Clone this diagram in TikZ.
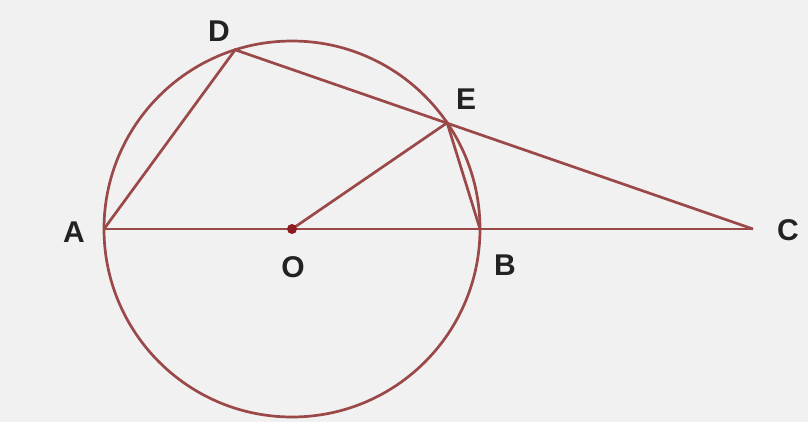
\documentclass[tikz,border=0pt]{standalone}
\usepackage{fontspec}
\setmainfont{Liberation Sans}
\usetikzlibrary{calc}
\definecolor{bg}{HTML}{F1F1F1}
\definecolor{ln}{HTML}{9A4848}
\definecolor{dotc}{HTML}{8E1A22}
\definecolor{lab}{HTML}{222222}
\begin{document}
\begin{tikzpicture}[x=1pt,y=-1pt,
  seg/.style={draw=ln,line width=2.7pt},
  lbl/.style={text=lab,font=\fontsize{30}{30}\selectfont\bfseries,inner sep=0pt}]
\fill[bg] (0,0) rectangle (808,422);
\useasboundingbox (0,0) rectangle (808,422);
\coordinate (O) at (292,229);
\def\R{188}
\coordinate (A) at ($(O)+(-\R,0)$);
\coordinate (B) at ($(O)+(\R,0)$);
\coordinate (D) at ($(O)+({\R*cos(107.6)},{-\R*sin(107.6)})$);
\coordinate (E) at ($(O)+({\R*cos(34.4)},{-\R*sin(34.4)})$);
\coordinate (C) at (753,229);
\draw[seg] (O) circle (\R);
\draw[seg] (A) -- (C);
\draw[seg] (A) -- (D) -- (C);
\draw[seg] (O) -- (E) -- (B);
\fill[dotc] (O) circle (5);
\node[lbl] (lA) at (74,232) {A};
\node[lbl] (lD) at (219,31) {D};
\node[lbl] (lE) at (466,99) {E};
\node[lbl] (lO) at (293,267) {O};
\node[lbl] (lB) at (505,265) {B};
\node[lbl] (lC) at (788,230) {C};
\end{tikzpicture}
\end{document}
